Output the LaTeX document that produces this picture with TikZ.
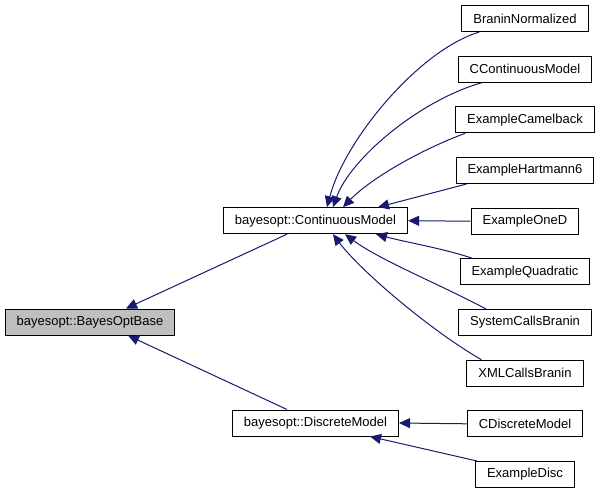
\documentclass[tikz,border=0pt]{standalone}
\usepackage{fontspec}
\setmainfont{Liberation Sans}
\usetikzlibrary{arrows.meta,calc}
\definecolor{edgeblue}{RGB}{25,25,112}
\definecolor{basegray}{RGB}{191,191,191}
\begin{document}
\begin{tikzpicture}[x=1pt,y=-1pt,
  cls/.style={draw=black,line width=1pt,fill=white,inner xsep=11.5pt,inner ysep=0pt,
    minimum height=26pt,font=\fontsize{13}{15}\selectfont},
  edge/.style={draw=edgeblue,line width=1pt,-{Triangle[length=11pt,width=10pt]}}]
\useasboundingbox (0,0) rectangle (600,493);
\node[cls,fill=basegray] (bo) at (90,322) {bayesopt::BayesOptBase};
\node[cls] (cm) at (315.5,220.7) {bayesopt::ContinuousModel};
\node[cls] (dm) at (315.5,423) {bayesopt::DiscreteModel};
\node[cls] (bn) at (525,18.5) {BraninNormalized};
\node[cls] (cc) at (525,69.2) {CContinuousModel};
\node[cls] (ec) at (525,119.8) {ExampleCamelback};
\node[cls] (eh) at (525,170.5) {ExampleHartmann6};
\node[cls] (eo) at (525,221.2) {ExampleOneD};
\node[cls] (eq) at (525,271.8) {ExampleQuadratic};
\node[cls] (sc) at (525,322.5) {SystemCallsBranin};
\node[cls] (xc) at (525,373.2) {XMLCallsBranin};
\node[cls] (cd) at (525,423.8) {CDiscreteModel};
\node[cls] (ed) at (525,474.5) {ExampleDisc};

\draw[edge] ($(cm.south)+(-28.5,0)$) -- ($(bo.north)+(36,0)$);
\draw[edge] ($(dm.north)+(-28.5,0)$) -- ($(bo.south)+(38,0)$);

\draw[edge] ($(bn.south west)+(18,0)$) .. controls +(-60,18) and +(18,-68) .. ($(cm.north)+(11.5,0)$);
\draw[edge] ($(cc.south west)+(24,0)$) .. controls +(-63,18) and +(17,-48) .. ($(cm.north)+(17.5,0)$);
\draw[edge] ($(ec.south west)+(10,0)$) .. controls +(-46,17) and +(27,-28) .. ($(cm.north)+(27.5,0)$);
\draw[edge] ($(eh.south west)+(11,0)$) -- ($(cm.north)+(62.5,0)$);
\draw[edge] (eo.west) -- (cm.east);
\draw[edge] ($(eq.north west)+(13,0)$) .. controls +(-30,-10) and +(30,8) .. ($(cm.south)+(60.5,0)$);
\draw[edge] ($(sc.north west)+(28,0)$) .. controls +(-47,-25) and +(35,26) .. ($(cm.south)+(29.5,0)$);
\draw[edge] ($(xc.north west)+(15,0)$) .. controls +(-52,-30) and +(27,36) .. ($(cm.south)+(17.5,0)$);

\draw[edge] (cd.west) -- (dm.east);
\draw[edge] ($(ed.north west)+(2,0)$) -- ($(dm.south)+(54.5,0)$);
\end{tikzpicture}
\end{document}
